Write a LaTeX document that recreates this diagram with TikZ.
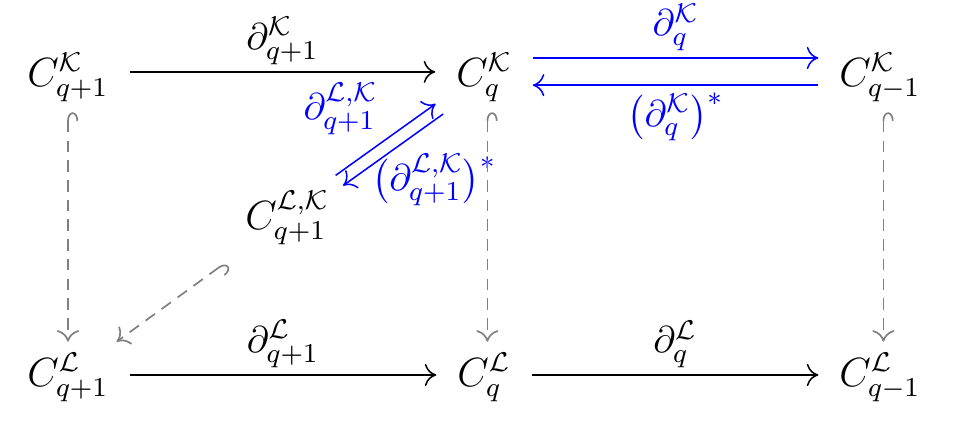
\documentclass[tikz,border=0pt,11pt]{standalone}
\usepackage{amsmath,amssymb}
\usepackage{tikz}
\usetikzlibrary{arrows.meta,positioning,calc}

\begin{document}
\begin{tikzpicture}[
            x=0.294pt, y=-0.294pt,
            space/.style={inner xsep=6pt, inner ysep=3pt, font=\large},
            map/.style={-{Computer Modern Rightarrow[length=3.4pt,width=6.5pt]}, line width=0.45pt},
            adj/.style={map, blue},
            incl/.style={{Hooks[right,length=2.5pt,width=6pt]}-{Computer Modern Rightarrow[length=3.4pt,width=6.5pt]}, dashed, gray, line width=0.5pt, dash pattern=on 3.4pt off 2.4pt},
        ]
            \useasboundingbox (0,0) rectangle (960,423);

            % top row
            \node[space] (Kq1) at (68,77) {$C^{\mathcal{K}}_{q+1}$};
            \node[space] (Kq) at (484,77) {$C^{\mathcal{K}}_{q}$};
            \node[space] (Kqm) at (880,77) {$C^{\mathcal{K}}_{q-1}$};
            % middle
            \node[space] (LKq1) at (287,218) {$C^{\mathcal{L},\mathcal{K}}_{q+1}$};
            % bottom row
            \node[space] (Lq1) at (68,377) {$C^{\mathcal{L}}_{q+1}$};
            \node[space] (Lq) at (484,377) {$C^{\mathcal{L}}_{q}$};
            \node[space] (Lqm) at (880,377) {$C^{\mathcal{L}}_{q-1}$};

            % horizontal maps
            \draw[map] ([yshift=1.5pt]Kq1.east) -- ([yshift=1.5pt]Kq.west)
                node[midway, above, inner sep=2pt] {$\partial^{\mathcal{K}}_{q+1}$};
            \draw[map] ([yshift=0.6pt]Lq1.east) -- ([yshift=0.6pt]Lq.west)
                node[midway, above, inner sep=2pt] {$\partial^{\mathcal{L}}_{q+1}$};
            \draw[map] ([yshift=0.6pt]Lq.east) -- ([yshift=0.6pt]Lqm.west)
                node[midway, above, inner sep=2pt] {$\partial^{\mathcal{L}}_{q}$};

            \draw[adj] ([yshift=5.6pt]Kq.east) -- ([yshift=5.6pt]Kqm.west)
                node[midway, above, inner sep=2pt] {$\partial^{\mathcal{K}}_{q}$};
            \draw[adj] ([yshift=-2.4pt]Kqm.west) -- ([yshift=-2.4pt]Kq.east)
                node[midway, below, inner sep=2pt] {$\bigl(\partial^{\mathcal{K}}_{q}\bigr)^{*}$};

            % diagonal pair
            \draw[adj, shorten >=-1.5pt, transform canvas={xshift=-1.1pt, yshift=1.5pt}] (LKq1) -- (Kq)
                node[pos=0.45, anchor=east, xshift=3.4pt, yshift=10.5pt] {$\partial^{\mathcal{L},\mathcal{K}}_{q+1}$};
            \draw[adj, shorten <=-1.5pt, transform canvas={xshift=1.1pt, yshift=-1.5pt}] (Kq) -- (LKq1)
                node[pos=0.62, anchor=west, xshift=-6pt, yshift=-6pt] {$\bigl(\partial^{\mathcal{L},\mathcal{K}}_{q+1}\bigr)^{*}$};

            % inclusions
            \draw[incl] (Kq1.south) -- (Lq1.north);
            \draw[incl] ([xshift=1pt]Kq.south) -- ([xshift=1pt]Lq.north);
            \draw[incl] ([xshift=1pt]Kqm.south) -- ([xshift=1pt]Lqm.north);
            \draw[incl, shorten <=3.5pt] (LKq1) -- (Lq1);

        \end{tikzpicture}
\end{document}
